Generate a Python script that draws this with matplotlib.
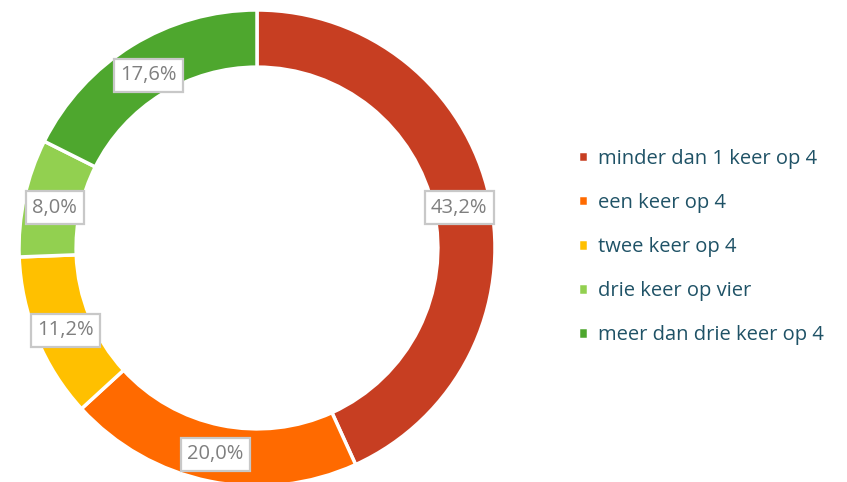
import matplotlib
matplotlib.use("Agg")
import matplotlib.pyplot as plt

categories = ["minder dan 1 keer op 4", "een keer op 4", "twee keer op 4",
              "drie keer op vier", "meer dan drie keer op 4"]
values = [43.2, 20.0, 11.2, 8.0, 17.6]
labels = ["43,2%", "20,0%", "11,2%", "8,0%", "17,6%"]
colors = ["#C73E22", "#FF6A00", "#FFC000", "#92D050", "#4EA72E"]

plt.rcParams["font.family"] = ["Open Sans", "DejaVu Sans"]

W, H = 847, 482
fig = plt.figure(figsize=(W / 100, H / 100), dpi=100)
R = 238
cx, cy = 257, 482 - 248
ax = fig.add_axes([(cx - R) / W, (cy - R) / H, 2 * R / W, 2 * R / H])

wedges, texts = ax.pie(values, startangle=90, counterclock=False, colors=colors,
                       radius=1.0, labels=labels, labeldistance=0.87,
                       wedgeprops=dict(width=0.24, edgecolor="white", linewidth=2.5),
                       textprops=dict(color="#7F7F7F", fontsize=14.5))
for t in texts:
    x, y = t.get_position()
    t.set_position((x, y - 0.015))
    t.set_horizontalalignment("center")
    t.set_verticalalignment("center")
    t.set_bbox(dict(boxstyle="square,pad=0.32", facecolor="white", edgecolor="#C8C8C8", linewidth=1.6))
ax.set_xlim(-1, 1)
ax.set_ylim(-1, 1)
ax.set_aspect("equal")
ax.axis("off")

fig.legend(wedges, categories, loc="center left", bbox_to_anchor=(560 / W, 1 - 247 / H),
           frameon=False, fontsize=14.5, labelcolor="#1F5266",
           handlelength=0.5, handleheight=0.5, handletextpad=0.5, labelspacing=1.2)

fig.savefig("out.png", dpi=100)
